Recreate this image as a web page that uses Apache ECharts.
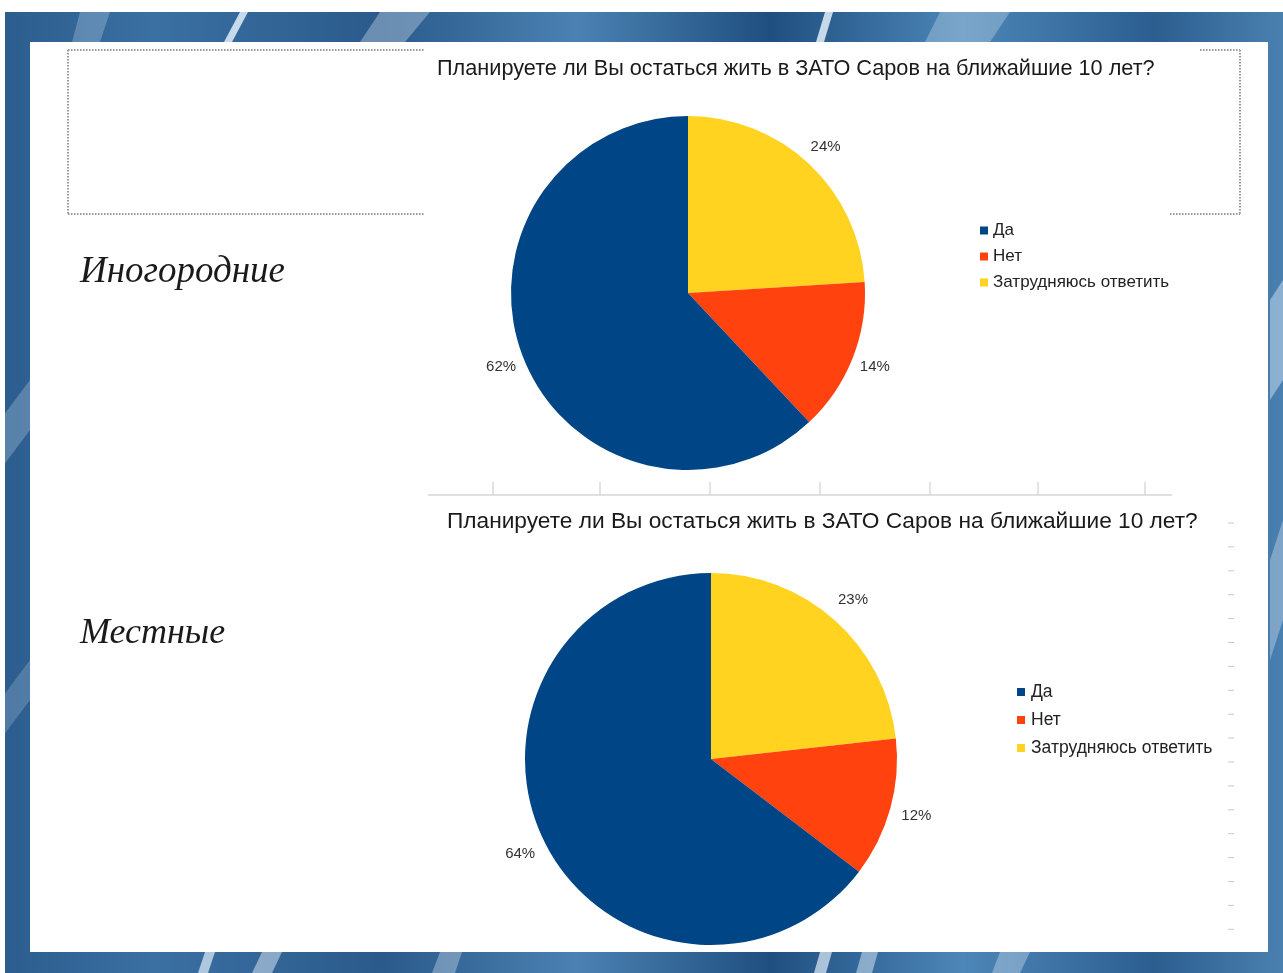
<!DOCTYPE html>
<html>
<head>
<meta charset="utf-8">
<script src="https://cdn.jsdelivr.net/npm/echarts@6/dist/echarts.min.js"></script>
<style>
html,body{margin:0;padding:0;background:#fff;}
#c{width:1283px;height:973px;}
</style>
</head>
<body>
<div id="c"></div>
<script>
// ---- data ----
const questionTitle = 'Планируете ли Вы остаться жить в ЗАТО Саров на ближайшие 10 лет?';
const groupNames = ['Иногородние', 'Местные'];
const legendNames = ['Да', 'Нет', 'Затрудняюсь ответить'];
const sliceOrder = ['Затрудняюсь ответить', 'Нет', 'Да']; // clockwise from 12 o'clock
const outOfTownValues = [24, 14, 62];   // Затрудняюсь, Нет, Да
const localValues = [23, 12, 64];       // Затрудняюсь, Нет, Да
const colors = {'Да': '#004586', 'Нет': '#ff420e', 'Затрудняюсь ответить': '#ffd320'};

const chart = echarts.init(document.getElementById('c'), null, {renderer: 'canvas'});

function pieData(values) {
  return sliceOrder.map((n, i) => ({name: n, value: values[i], itemStyle: {color: colors[n]}}));
}
function labelRingData(values) {
  return sliceOrder.map((n, i) => ({name: n, value: values[i]}));
}

const TEXT_FONT = '"Liberation Sans", Arial, sans-serif';
const SERIF_FONT = '"Liberation Serif", "DejaVu Serif", serif';

// ---- decorative slide background ----
const graphics = [];
graphics.push({type: 'rect', z: -10, shape: {x: 0, y: 12, width: 1283, height: 961},
  style: {fill: new echarts.graphic.LinearGradient(0, 0, 1, 0, [
    {offset: 0, color: '#2b5c8d'}, {offset: 0.12, color: '#3b70a2'},
    {offset: 0.3, color: '#2a5a8b'}, {offset: 0.45, color: '#4b82b3'},
    {offset: 0.6, color: '#1f4f80'}, {offset: 0.75, color: '#4d86b8'},
    {offset: 0.9, color: '#2c5e90'}, {offset: 1, color: '#4a80b0'}])}});
// light streaks (slanted)
const streaks = [
  [[240, 12], [248, 12], [232, 42], [224, 42], 0.85],
  [[380, 12], [430, 12], [405, 42], [360, 42], 0.35],
  [[825, 12], [833, 12], [824, 42], [816, 42], 0.85],
  [[940, 12], [1010, 12], [990, 42], [925, 42], 0.3],
  [[80, 12], [110, 12], [100, 42], [72, 42], 0.25],
  [[205, 952], [215, 952], [208, 973], [198, 973], 0.7],
  [[262, 952], [282, 952], [272, 973], [252, 973], 0.5],
  [[440, 952], [462, 952], [455, 973], [432, 973], 0.35],
  [[820, 952], [832, 952], [826, 973], [814, 973], 0.7],
  [[862, 952], [878, 952], [872, 973], [856, 973], 0.5],
  [[1000, 952], [1030, 952], [1020, 973], [992, 973], 0.35],
  [[1270, 300], [1283, 280], [1283, 380], [1270, 400], 0.45],
  [[1270, 560], [1283, 520], [1283, 620], [1270, 660], 0.35],
  [[0, 420], [30, 380], [30, 430], [0, 470], 0.25],
  [[0, 700], [30, 660], [30, 700], [0, 740], 0.2]
];
streaks.forEach(s => graphics.push({type: 'polygon', z: -9,
  shape: {points: s.slice(0, 4)}, style: {fill: 'rgba(225,238,250,' + s[4] + ')'}}));
graphics.push({type: 'rect', z: -8, shape: {x: 0, y: 0, width: 1283, height: 12}, style: {fill: '#fff'}});
graphics.push({type: 'rect', z: -8, shape: {x: 0, y: 0, width: 5, height: 973}, style: {fill: '#fff'}});
// white slide panel
graphics.push({type: 'rect', z: -7, shape: {x: 30, y: 42, width: 1238, height: 910}, style: {fill: '#fff'}});
// dotted placeholder box
const dot = {stroke: '#9a9a9a', lineWidth: 2, lineDash: [1.5, 1.5]};
[[68, 50, 425, 50], [1200, 50, 1240, 50], [68, 214, 425, 214], [1170, 214, 1240, 214],
 [68, 50, 68, 214], [1240, 50, 1240, 214]].forEach(l => graphics.push({type: 'line', z: -6,
  shape: {x1: l[0], y1: l[1], x2: l[2], y2: l[3]}, style: dot}));
// stray axis line under top chart
graphics.push({type: 'line', z: -6, shape: {x1: 428, y1: 495, x2: 1172, y2: 495},
  style: {stroke: '#d6d6d6', lineWidth: 1.5}});
[493, 600, 710, 820, 930, 1038, 1145].forEach(x => graphics.push({type: 'line', z: -6,
  shape: {x1: x, y1: 482, x2: x, y2: 495}, style: {stroke: '#d0d0d0', lineWidth: 1.2}}));
// small dashes at right edge
for (let i = 0; i < 18; i++) {
  const y = 523 + i * 23.9;
  graphics.push({type: 'line', z: -6, shape: {x1: 1228, y1: y, x2: 1234, y2: y},
    style: {stroke: '#c8c8c8', lineWidth: 1}});
}

const option = {
  backgroundColor: 'transparent',
  animation: false,
  graphic: graphics,
  title: [
    {text: questionTitle, left: 437, top: 58, padding: 0,
     textStyle: {fontFamily: TEXT_FONT, fontSize: 21.7, fontWeight: 'normal', color: '#1a1a1a'}},
    {text: questionTitle, left: 447, top: 510, padding: 0,
     textStyle: {fontFamily: TEXT_FONT, fontSize: 22.7, fontWeight: 'normal', color: '#1a1a1a'}},
    {text: groupNames[0], left: 80, top: 254, padding: 0,
     textStyle: {fontFamily: SERIF_FONT, fontStyle: 'italic',
       fontSize: 37, fontWeight: 'normal', color: '#1a1a1a'}},
    {text: groupNames[1], left: 80, top: 616, padding: 0,
     textStyle: {fontFamily: SERIF_FONT, fontStyle: 'italic',
       fontSize: 36, fontWeight: 'normal', color: '#1a1a1a'}}
  ],
  legend: [
    {orient: 'vertical', left: 980, top: 222, padding: 0, itemWidth: 8, itemHeight: 8, itemGap: 9,
     icon: 'rect', selectedMode: false,
     data: legendNames.map(n => ({name: n, itemStyle: {color: colors[n]}})),
     textStyle: {fontFamily: TEXT_FONT, fontSize: 17, color: '#222', padding: [0, 0, 0, 0]}},
    {orient: 'vertical', left: 1017, top: 683, padding: 0, itemWidth: 8, itemHeight: 8, itemGap: 10,
     icon: 'rect', selectedMode: false,
     data: legendNames.map(n => ({name: n, itemStyle: {color: colors[n]}})),
     textStyle: {fontFamily: TEXT_FONT, fontSize: 17.5, color: '#222', padding: [0, 0, 0, 1]}}
  ],
  series: [
    {type: 'pie', center: [688, 293], radius: 177, startAngle: 90, clockwise: true,
     label: {show: false}, labelLine: {show: false}, silent: true,
     data: pieData(outOfTownValues)},
    {type: 'pie', center: [688, 293], radius: [177, 219], startAngle: 90, clockwise: true, silent: true,
     itemStyle: {color: 'rgba(0,0,0,0)'},
     label: {show: true, position: 'inside', formatter: '{c}%', fontFamily: TEXT_FONT, fontSize: 15, color: '#333'},
     labelLine: {show: false}, data: labelRingData(outOfTownValues)},
    {type: 'pie', center: [711, 759], radius: 186, startAngle: 90, clockwise: true,
     label: {show: false}, labelLine: {show: false}, silent: true,
     data: pieData(localValues)},
    {type: 'pie', center: [711, 759], radius: [186, 234], startAngle: 90, clockwise: true, silent: true,
     itemStyle: {color: 'rgba(0,0,0,0)'},
     label: {show: true, position: 'inside', formatter: '{c}%', fontFamily: TEXT_FONT, fontSize: 15, color: '#333'},
     labelLine: {show: false}, data: labelRingData(localValues)}
  ]
};
chart.setOption(option);
</script>
</body>
</html>
